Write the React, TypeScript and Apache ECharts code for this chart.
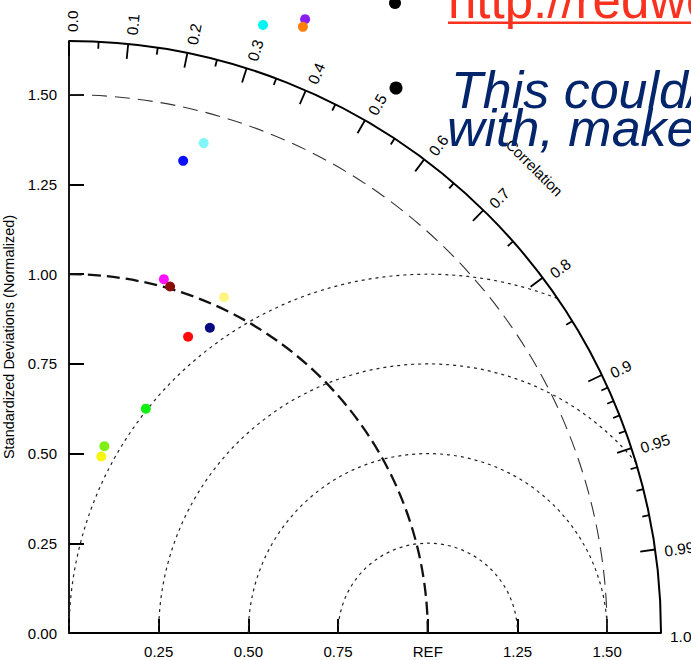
import React, { useEffect, useRef } from "react";
import * as echarts from "echarts";

const FONT = '"Liberation Sans", Arial, Helvetica, sans-serif';

// Taylor diagram reference and extent
const REF_STD = 1.0;
const MAX_STD = 1.65;

// standard deviation axis ticks / labels
const stdTickValues = [0, 0.25, 0.5, 0.75, 1.0, 1.25, 1.5];
const xLabelValues = [0.25, 0.5, 0.75, 1.0, 1.25, 1.5];
const yLabelValues = [0, 0.25, 0.5, 0.75, 1.0, 1.25, 1.5];

// reference arcs
const stdArcValues = [1.0, 1.5];
const rmsArcValues = [0.25, 0.5, 0.75, 1.0];

// correlation ticks
const corrMajorValues = [0, 0.1, 0.2, 0.3, 0.4, 0.5, 0.6, 0.7, 0.8, 0.9, 0.95, 0.99, 1.0];
const corrMajorLabels = ["0.0", "0.1", "0.2", "0.3", "0.4", "0.5", "0.6", "0.7", "0.8", "0.9", "0.95", "0.99", "1.0"];
const corrMinorValues = [0.05, 0.15, 0.25, 0.35, 0.45, 0.55, 0.65, 0.75, 0.85, 0.91, 0.92, 0.93, 0.94, 0.96, 0.97, 0.98];

// models (normalized std, correlation)
const modelColors = ["#00f5f5", "#8a1ef2", "#ff7f0a", "#0a10ff", "#80f6f6", "#ff10ff", "#8b0a0a", "#fff585", "#0a0a80", "#ff0a0a", "#10f010", "#80f010", "#f6f610"];
const modelStd = [1.779, 1.833, 1.811, 1.354, 1.416, 1.021, 1.006, 1.031, 0.937, 0.890, 0.661, 0.530, 0.500];
const modelCorr = [0.304, 0.359, 0.360, 0.235, 0.265, 0.259, 0.280, 0.419, 0.419, 0.373, 0.324, 0.186, 0.180];

export default function App() {
  const ref = useRef<HTMLDivElement>(null);

  useEffect(() => {
    const chart = echarts.init(ref.current!, null, { renderer: "svg" });

    const points = modelStd.map((s, i) => {
      const c = modelCorr[i];
      return {
        value: [s * c, s * Math.sqrt(1 - c * c)],
        itemStyle: { color: modelColors[i], opacity: 1 },
      };
    });

    const corrTickData = [
      ...corrMajorValues.map((c, i) => [c, 1, i]),
      ...corrMinorValues.map((c) => [c, 0, -1]),
    ];

    const option: any = {
      animation: false,
      backgroundColor: "#ffffff",
      grid: { left: 69, top: 41, width: 592, height: 592, containLabel: false, outerBoundsMode: "none" },
      xAxis: {
        type: "value",
        min: 0,
        max: MAX_STD,
        axisLine: { show: true, onZero: false, lineStyle: { color: "#000", width: 1.8 } },
        axisTick: { show: true, inside: true, length: 14, customValues: stdTickValues, lineStyle: { color: "#000", width: 2 } },
        axisLabel: {
          customValues: xLabelValues,
          formatter: (v: number) => (Math.abs(v - REF_STD) < 1e-9 ? "REF" : v.toFixed(2)),
          fontSize: 15,
          fontFamily: FONT,
          color: "#000",
          margin: 11,
        },
        splitLine: { show: false },
      },
      yAxis: {
        type: "value",
        min: 0,
        max: MAX_STD,
        name: "Standardized Deviations (Normalized)",
        nameLocation: "middle",
        nameRotate: 90,
        nameGap: 51,
        nameTextStyle: { fontSize: 14.5, fontFamily: FONT, color: "#000" },
        axisLine: { show: true, onZero: false, lineStyle: { color: "#000", width: 1.8 } },
        axisTick: { show: true, inside: true, length: 15, customValues: stdTickValues, lineStyle: { color: "#000", width: 2 } },
        axisLabel: {
          customValues: yLabelValues,
          formatter: (v: number) => v.toFixed(2),
          fontSize: 15,
          fontFamily: FONT,
          color: "#000",
          margin: 12,
        },
        splitLine: { show: false },
      },
      series: [
        {
          type: "custom",
          coordinateSystem: "cartesian2d",
          silent: true,
          clip: false,
          z: 2,
          data: rmsArcValues.map((r) => [r, 0]),
          renderItem: (_p: any, api: any) => {
            const rho = api.value(0) as number;
            const c = api.coord([REF_STD, 0]);
            const rp = api.size([rho, 0])[0];
            let phi0 = 0;
            if (REF_STD + rho > MAX_STD) {
              const xi = (MAX_STD * MAX_STD - rho * rho + REF_STD * REF_STD) / (2 * REF_STD);
              const yi = Math.sqrt(MAX_STD * MAX_STD - xi * xi);
              phi0 = Math.atan2(yi, xi - REF_STD);
            }
            let phi1 = Math.PI;
            if (REF_STD - rho < 0) phi1 = Math.acos(-REF_STD / rho);
            return {
              type: "arc",
              shape: { cx: c[0], cy: c[1], r: rp, startAngle: -phi1, endAngle: -phi0, clockwise: true },
              style: { fill: "none", stroke: "#222", lineWidth: 1.2, lineDash: [3, 4] },
            };
          },
        },
        {
          type: "custom",
          coordinateSystem: "cartesian2d",
          silent: true,
          clip: false,
          z: 3,
          data: stdArcValues.map((r) => [r, 0]),
          renderItem: (_p: any, api: any) => {
            const r = api.value(0) as number;
            const o = api.coord([0, 0]);
            const rp = api.size([r, 0])[0];
            const bold = Math.abs(r - REF_STD) < 1e-9;
            return {
              type: "arc",
              shape: { cx: o[0], cy: o[1], r: rp, startAngle: -Math.PI / 2, endAngle: 0, clockwise: true },
              style: {
                fill: "none",
                stroke: bold ? "#111" : "#333",
                lineWidth: bold ? 2.3 : 1.1,
                lineDash: bold ? [13, 6] : [15, 8],
              },
            };
          },
        },
        {
          type: "custom",
          coordinateSystem: "cartesian2d",
          silent: true,
          clip: false,
          z: 4,
          data: [[MAX_STD, 0]],
          renderItem: (_p: any, api: any) => {
            const o = api.coord([0, 0]);
            const R = api.size([api.value(0), 0])[0];
            // "Correlation" title along the arc at 45 degrees
            const tr = MAX_STD * 1.112;
            const th = Math.PI / 4;
            const tp = api.coord([tr * Math.cos(th), tr * Math.sin(th)]);
            return {
              type: "group",
              children: [
                {
                  type: "arc",
                  shape: { cx: o[0], cy: o[1], r: R, startAngle: -Math.PI / 2, endAngle: 0, clockwise: true },
                  style: { fill: "none", stroke: "#000", lineWidth: 2 },
                },
                {
                  type: "text",
                  x: tp[0],
                  y: tp[1],
                  rotation: -th,
                  style: {
                    text: "Correlation",
                    fontSize: 15,
                    fontFamily: FONT,
                    fill: "#000",
                    align: "center",
                    verticalAlign: "middle",
                  },
                },
              ],
            };
          },
        },
        {
          type: "custom",
          coordinateSystem: "cartesian2d",
          silent: true,
          clip: false,
          z: 4,
          data: corrTickData,
          renderItem: (_p: any, api: any) => {
            const c = api.value(0) as number;
            const major = api.value(1) === 1;
            const li = api.value(2) as number;
            const o = api.coord([0, 0]);
            const R = api.size([MAX_STD, 0])[0];
            const th = Math.acos(c);
            const dx = Math.cos(th);
            const dy = -Math.sin(th);
            const len = major ? 15 : 7;
            const children: any[] = [
              {
                type: "line",
                shape: { x1: o[0] + dx * R, y1: o[1] + dy * R, x2: o[0] + dx * (R - len), y2: o[1] + dy * (R - len) },
                style: { stroke: "#000", lineWidth: 1.8 },
              },
            ];
            if (major) {
              const tx = -Math.sin(th);
              const ty = -Math.cos(th);
              children.push({
                type: "text",
                x: o[0] + dx * (R + 9) - 3 * tx,
                y: o[1] + dy * (R + 9) - 3 * ty,
                rotation: th,
                style: {
                  text: corrMajorLabels[li],
                  fontSize: 15.5,
                  fontFamily: FONT,
                  fill: "#000",
                  align: "left",
                  verticalAlign: "middle",
                },
              });
            }
            return { type: "group", children };
          },
        },
        {
          type: "scatter",
          clip: false,
          z: 6,
          symbol: "circle",
          symbolSize: 10,
          silent: true,
          itemStyle: { opacity: 1 },
          data: points,
        },
      ],
      graphic: [
        { type: "circle", z: 100, shape: { cx: 395, cy: 3, r: 6 }, style: { fill: "#000" } },
        { type: "circle", z: 100, shape: { cx: 396, cy: 88, r: 6.5 }, style: { fill: "#000" } },
        {
          type: "text",
          z: 100,
          x: 448,
          y: 0,
          style: {
            text: "http://redwo",
            font: `51px ${FONT}`,
            fill: "#f8321f",
            align: "left",
            verticalAlign: "middle",
          },
        },
        { type: "rect", z: 100, shape: { x: 448, y: 21.5, width: 260, height: 2.6 }, style: { fill: "#f8321f" } },
        {
          type: "text",
          z: 100,
          x: 451,
          y: 90,
          style: {
            text: "This could/",
            font: `italic 52px ${FONT}`,
            fill: "#03256b",
            align: "left",
            verticalAlign: "middle",
          },
        },
        {
          type: "text",
          z: 100,
          x: 447,
          y: 128,
          style: {
            text: "with, make",
            font: `italic 52px ${FONT}`,
            fill: "#03256b",
            align: "left",
            verticalAlign: "middle",
          },
        },
      ],
    };

    chart.setOption(option);
    return () => chart.dispose();
  }, []);

  return (
    <div
      ref={ref}
      style={{ position: "fixed", left: 0, top: 0, width: 691, height: 660, background: "#fff" }}
    />
  );
}
